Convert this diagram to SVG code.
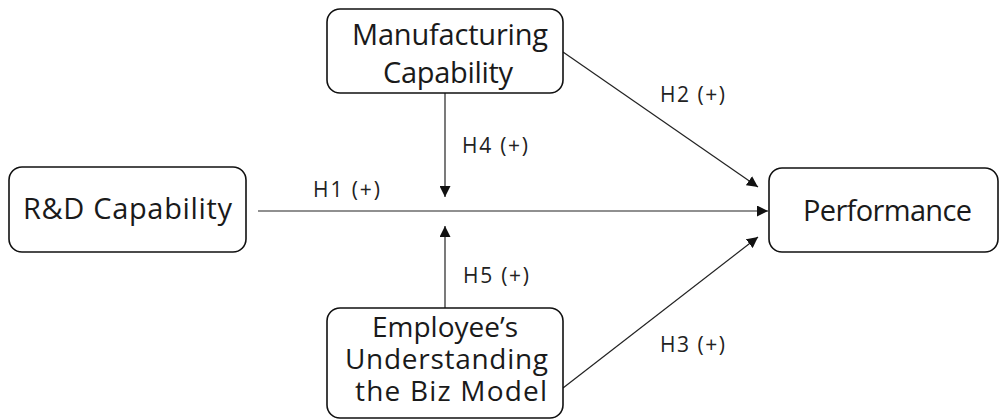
<svg xmlns="http://www.w3.org/2000/svg" width="1000" height="420" viewBox="0 0 1000 420">
  <defs>
    <marker id="arrow" viewBox="0 0 10 10" refX="10" refY="5" markerWidth="11" markerHeight="11" markerUnits="userSpaceOnUse" orient="auto">
      <path d="M0,0 L10,5 L0,10 Z" fill="#111"/>
    </marker>
    <style>
      .box { fill: #fff; stroke: #111; stroke-width: 1.6; }
      .node-text { font-family: "Open Sans", "Noto Sans", sans-serif; font-size: 29px; fill: #1a1a1a; }
      .tight { font-size: 28px; }
      .label { font-family: "Open Sans", "Noto Sans", sans-serif; font-size: 21px; fill: #222; }
      .edge { stroke: #222; stroke-width: 1.2; fill: none; marker-end: url(#arrow); }
    </style>
  </defs>
  <rect width="1000" height="420" fill="#fff"/>

  <g id="connectors">
    <line class="edge" x1="258" y1="211" x2="768" y2="211"/>
    <line class="edge" x1="445" y1="93" x2="445" y2="197"/>
    <line class="edge" x1="445" y1="308" x2="445" y2="226"/>
    <line class="edge" x1="563" y1="52" x2="758" y2="187"/>
    <line class="edge" x1="563" y1="388" x2="758" y2="237"/>
    <text class="label" x="313" y="197" textLength="67">H1 (+)</text>
    <text class="label" x="660" y="102" textLength="65">H2 (+)</text>
    <text class="label" x="660" y="352" textLength="65">H3 (+)</text>
    <text class="label" x="462" y="153" textLength="66">H4 (+)</text>
    <text class="label" x="463" y="283" textLength="66">H5 (+)</text>
  </g>

  <g id="rd">
    <rect class="box" x="9" y="167" width="237" height="85" rx="13"/>
    <text class="node-text" x="23" y="219" textLength="209">R&amp;D Capability</text>
  </g>

  <g id="manufacturing">
    <rect class="box" x="327" y="9" width="236" height="84" rx="13"/>
    <text class="node-text" x="352" y="45" textLength="196">Manufacturing</text>
    <text class="node-text" x="383" y="83" textLength="130">Capability</text>
  </g>

  <g id="employee">
    <rect class="box" x="327" y="308" width="236" height="110" rx="13"/>
    <text class="node-text tight" x="372" y="337" textLength="146">Employee’s</text>
    <text class="node-text tight" x="345" y="369" textLength="203">Understanding</text>
    <text class="node-text tight" x="355" y="401" textLength="192">the Biz Model</text>
  </g>

  <g id="performance">
    <rect class="box" x="769" y="168" width="229" height="84" rx="13"/>
    <text class="node-text" x="803" y="221" textLength="169">Performance</text>
  </g>
</svg>
